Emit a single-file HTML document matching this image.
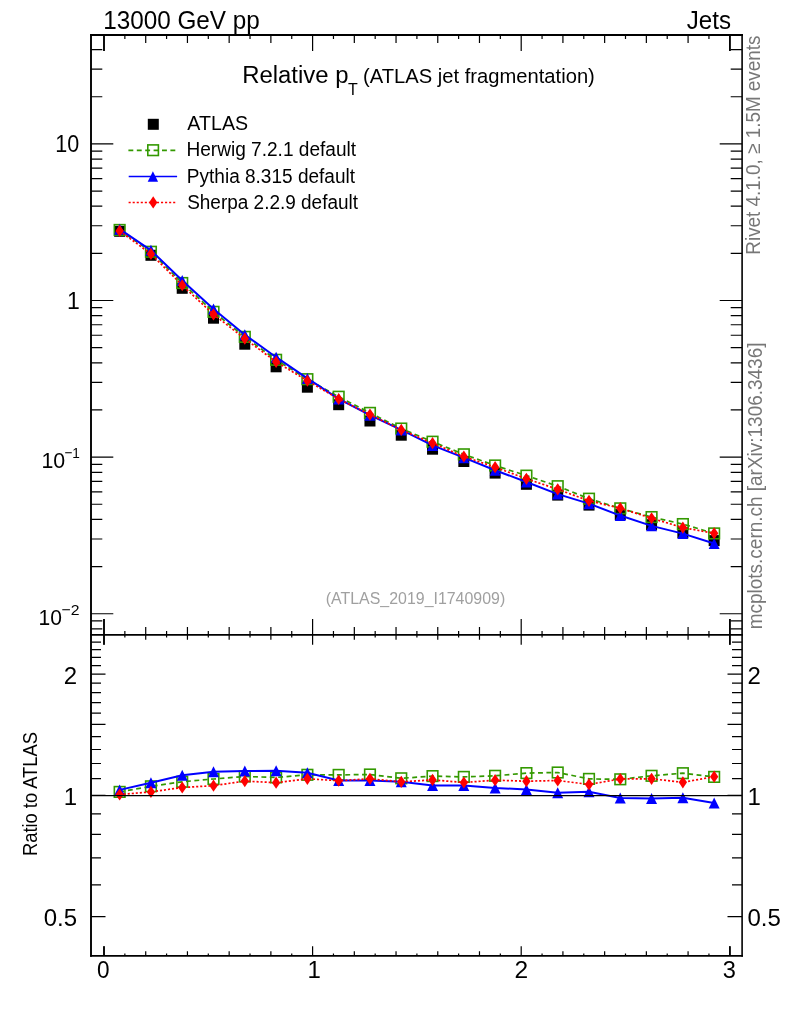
<!DOCTYPE html>
<html><head><meta charset="utf-8"><title>Relative pT (ATLAS jet fragmentation)</title>
<style>html,body{margin:0;padding:0;background:#fff;overflow:hidden;}svg{display:block;will-change:transform;}</style>
</head><body>
<svg width="786" height="1024" viewBox="0 0 786 1024">
<rect width="786" height="1024" fill="#fff"/>
<defs><clipPath id="cu"><rect x="91" y="35" width="651" height="600"/></clipPath>
<clipPath id="cr"><rect x="91" y="635" width="651" height="321"/></clipPath></defs>
<g clip-path="url(#cu)">
<rect x="114.14" y="225.8" width="11" height="11" fill="#000"/>
<rect x="145.44" y="249.8" width="11" height="11" fill="#000"/>
<rect x="176.72" y="282.8" width="11" height="11" fill="#000"/>
<rect x="208.01" y="312.7" width="11" height="11" fill="#000"/>
<rect x="239.3" y="338.7" width="11" height="11" fill="#000"/>
<rect x="270.6" y="361.3" width="11" height="11" fill="#000"/>
<rect x="301.88" y="381.7" width="11" height="11" fill="#000"/>
<rect x="333.17" y="399.2" width="11" height="11" fill="#000"/>
<rect x="364.46" y="415.5" width="11" height="11" fill="#000"/>
<rect x="395.75" y="429.7" width="11" height="11" fill="#000"/>
<rect x="427.04" y="443.7" width="11" height="11" fill="#000"/>
<rect x="458.33" y="456" width="11" height="11" fill="#000"/>
<rect x="489.62" y="467.6" width="11" height="11" fill="#000"/>
<rect x="520.91" y="478.8" width="11" height="11" fill="#000"/>
<rect x="552.21" y="489.6" width="11" height="11" fill="#000"/>
<rect x="583.5" y="499.6" width="11" height="11" fill="#000"/>
<rect x="614.78" y="509.1" width="11" height="11" fill="#000"/>
<rect x="646.07" y="519.2" width="11" height="11" fill="#000"/>
<rect x="677.37" y="527.2" width="11" height="11" fill="#000"/>
<rect x="708.66" y="535.1" width="11" height="11" fill="#000"/>
<polyline points="119.64,229.94 150.94,251.76 182.22,283.01 213.51,311.82 244.8,336.85 276.1,359.8 307.38,379.19 338.67,396.73 369.96,412.88 401.25,428.55 432.54,441.7 463.83,454.31 495.12,465.48 526.41,475.63 557.71,486.2 589,498.69 620.28,508.34 651.57,517.08 682.87,524.07 714.16,533.41" fill="none" stroke="#339900" stroke-width="1.7" stroke-dasharray="4.9 3.5"/>
<rect x="114.34" y="224.64" width="10.6" height="10.6" fill="none" stroke="#339900" stroke-width="1.6"/>
<rect x="145.63" y="246.46" width="10.6" height="10.6" fill="none" stroke="#339900" stroke-width="1.6"/>
<rect x="176.92" y="277.71" width="10.6" height="10.6" fill="none" stroke="#339900" stroke-width="1.6"/>
<rect x="208.21" y="306.52" width="10.6" height="10.6" fill="none" stroke="#339900" stroke-width="1.6"/>
<rect x="239.5" y="331.55" width="10.6" height="10.6" fill="none" stroke="#339900" stroke-width="1.6"/>
<rect x="270.8" y="354.5" width="10.6" height="10.6" fill="none" stroke="#339900" stroke-width="1.6"/>
<rect x="302.08" y="373.89" width="10.6" height="10.6" fill="none" stroke="#339900" stroke-width="1.6"/>
<rect x="333.37" y="391.43" width="10.6" height="10.6" fill="none" stroke="#339900" stroke-width="1.6"/>
<rect x="364.66" y="407.58" width="10.6" height="10.6" fill="none" stroke="#339900" stroke-width="1.6"/>
<rect x="395.95" y="423.25" width="10.6" height="10.6" fill="none" stroke="#339900" stroke-width="1.6"/>
<rect x="427.24" y="436.4" width="10.6" height="10.6" fill="none" stroke="#339900" stroke-width="1.6"/>
<rect x="458.53" y="449.01" width="10.6" height="10.6" fill="none" stroke="#339900" stroke-width="1.6"/>
<rect x="489.82" y="460.18" width="10.6" height="10.6" fill="none" stroke="#339900" stroke-width="1.6"/>
<rect x="521.12" y="470.33" width="10.6" height="10.6" fill="none" stroke="#339900" stroke-width="1.6"/>
<rect x="552.41" y="480.9" width="10.6" height="10.6" fill="none" stroke="#339900" stroke-width="1.6"/>
<rect x="583.7" y="493.39" width="10.6" height="10.6" fill="none" stroke="#339900" stroke-width="1.6"/>
<rect x="614.99" y="503.04" width="10.6" height="10.6" fill="none" stroke="#339900" stroke-width="1.6"/>
<rect x="646.27" y="511.78" width="10.6" height="10.6" fill="none" stroke="#339900" stroke-width="1.6"/>
<rect x="677.57" y="518.77" width="10.6" height="10.6" fill="none" stroke="#339900" stroke-width="1.6"/>
<rect x="708.86" y="528.11" width="10.6" height="10.6" fill="none" stroke="#339900" stroke-width="1.6"/>
<polyline points="119.64,229.16 150.94,250.36 182.22,280.45 213.51,309.03 244.8,334.71 276.1,357.2 307.38,378.38 338.67,398.91 369.96,415.21 401.25,429.91 432.54,445.39 463.83,457.69 495.12,470.22 526.41,481.97 557.71,494.09 589,503.66 620.28,515.57 651.57,525.87 682.87,533.59 714.16,543.55" fill="none" stroke="#0000ff" stroke-width="2"/>
<path d="M114.14 234.66L125.14 234.66L119.64 223.66Z" fill="#0000ff"/>
<path d="M145.44 255.86L156.44 255.86L150.94 244.86Z" fill="#0000ff"/>
<path d="M176.72 285.95L187.72 285.95L182.22 274.95Z" fill="#0000ff"/>
<path d="M208.01 314.53L219.01 314.53L213.51 303.53Z" fill="#0000ff"/>
<path d="M239.3 340.21L250.3 340.21L244.8 329.21Z" fill="#0000ff"/>
<path d="M270.6 362.7L281.6 362.7L276.1 351.7Z" fill="#0000ff"/>
<path d="M301.88 383.88L312.88 383.88L307.38 372.88Z" fill="#0000ff"/>
<path d="M333.17 404.41L344.17 404.41L338.67 393.41Z" fill="#0000ff"/>
<path d="M364.46 420.71L375.46 420.71L369.96 409.71Z" fill="#0000ff"/>
<path d="M395.75 435.41L406.75 435.41L401.25 424.41Z" fill="#0000ff"/>
<path d="M427.04 450.89L438.04 450.89L432.54 439.89Z" fill="#0000ff"/>
<path d="M458.33 463.19L469.33 463.19L463.83 452.19Z" fill="#0000ff"/>
<path d="M489.62 475.72L500.62 475.72L495.12 464.72Z" fill="#0000ff"/>
<path d="M520.91 487.47L531.91 487.47L526.41 476.47Z" fill="#0000ff"/>
<path d="M552.21 499.59L563.21 499.59L557.71 488.59Z" fill="#0000ff"/>
<path d="M583.5 509.16L594.5 509.16L589 498.16Z" fill="#0000ff"/>
<path d="M614.78 521.07L625.78 521.07L620.28 510.07Z" fill="#0000ff"/>
<path d="M646.07 531.37L657.07 531.37L651.57 520.37Z" fill="#0000ff"/>
<path d="M677.37 539.09L688.37 539.09L682.87 528.09Z" fill="#0000ff"/>
<path d="M708.66 549.05L719.66 549.05L714.16 538.05Z" fill="#0000ff"/>
<polyline points="119.64,230.95 150.94,253.94 182.22,285.23 213.51,314.43 244.8,338.64 276.1,361.86 307.38,380.75 338.67,398.99 369.96,414.55 401.25,429.91 432.54,443.17 463.83,456.49 495.12,467.19 526.41,478.78 557.71,489.31 589,500.82 620.28,508.22 651.57,518.25 682.87,527.61 714.16,533.33" fill="none" stroke="#ff0000" stroke-width="1.7" stroke-dasharray="2.1 1.95"/>
<path d="M119.64 224.85L123.8 230.95L119.64 237.05L115.49 230.95Z" fill="#ff0000"/>
<path d="M150.94 247.84L155.09 253.94L150.94 260.04L146.78 253.94Z" fill="#ff0000"/>
<path d="M182.22 279.13L186.38 285.23L182.22 291.33L178.07 285.23Z" fill="#ff0000"/>
<path d="M213.51 308.33L217.66 314.43L213.51 320.53L209.36 314.43Z" fill="#ff0000"/>
<path d="M244.8 332.54L248.95 338.64L244.8 344.74L240.65 338.64Z" fill="#ff0000"/>
<path d="M276.1 355.76L280.25 361.86L276.1 367.96L271.95 361.86Z" fill="#ff0000"/>
<path d="M307.38 374.65L311.53 380.75L307.38 386.85L303.24 380.75Z" fill="#ff0000"/>
<path d="M338.67 392.89L342.82 398.99L338.67 405.09L334.52 398.99Z" fill="#ff0000"/>
<path d="M369.96 408.45L374.11 414.55L369.96 420.65L365.81 414.55Z" fill="#ff0000"/>
<path d="M401.25 423.81L405.4 429.91L401.25 436.01L397.1 429.91Z" fill="#ff0000"/>
<path d="M432.54 437.07L436.69 443.17L432.54 449.27L428.39 443.17Z" fill="#ff0000"/>
<path d="M463.83 450.39L467.98 456.49L463.83 462.59L459.69 456.49Z" fill="#ff0000"/>
<path d="M495.12 461.09L499.27 467.19L495.12 473.29L490.97 467.19Z" fill="#ff0000"/>
<path d="M526.41 472.68L530.56 478.78L526.41 484.88L522.26 478.78Z" fill="#ff0000"/>
<path d="M557.71 483.21L561.86 489.31L557.71 495.41L553.56 489.31Z" fill="#ff0000"/>
<path d="M589 494.72L593.14 500.82L589 506.92L584.85 500.82Z" fill="#ff0000"/>
<path d="M620.28 502.12L624.43 508.22L620.28 514.32L616.13 508.22Z" fill="#ff0000"/>
<path d="M651.57 512.15L655.72 518.25L651.57 524.35L647.42 518.25Z" fill="#ff0000"/>
<path d="M682.87 521.51L687.01 527.61L682.87 533.71L678.72 527.61Z" fill="#ff0000"/>
<path d="M714.16 527.23L718.31 533.33L714.16 539.43L710.01 533.33Z" fill="#ff0000"/>
</g>
<g clip-path="url(#cr)">
<polyline points="119.64,791.9 150.94,786.3 182.22,781.8 213.51,779 244.8,776.5 276.1,777.4 307.38,774.8 338.67,774.9 369.96,774.5 401.25,778.3 432.54,776.1 463.83,776.9 495.12,775.8 526.41,773.1 557.71,772.5 589,778.9 620.28,779.3 651.57,775.8 682.87,773.2 714.16,776.9" fill="none" stroke="#339900" stroke-width="1.7" stroke-dasharray="4.9 3.5"/>
<rect x="114.34" y="786.6" width="10.6" height="10.6" fill="none" stroke="#339900" stroke-width="1.6"/>
<rect x="145.63" y="781" width="10.6" height="10.6" fill="none" stroke="#339900" stroke-width="1.6"/>
<rect x="176.92" y="776.5" width="10.6" height="10.6" fill="none" stroke="#339900" stroke-width="1.6"/>
<rect x="208.21" y="773.7" width="10.6" height="10.6" fill="none" stroke="#339900" stroke-width="1.6"/>
<rect x="239.5" y="771.2" width="10.6" height="10.6" fill="none" stroke="#339900" stroke-width="1.6"/>
<rect x="270.8" y="772.1" width="10.6" height="10.6" fill="none" stroke="#339900" stroke-width="1.6"/>
<rect x="302.08" y="769.5" width="10.6" height="10.6" fill="none" stroke="#339900" stroke-width="1.6"/>
<rect x="333.37" y="769.6" width="10.6" height="10.6" fill="none" stroke="#339900" stroke-width="1.6"/>
<rect x="364.66" y="769.2" width="10.6" height="10.6" fill="none" stroke="#339900" stroke-width="1.6"/>
<rect x="395.95" y="773" width="10.6" height="10.6" fill="none" stroke="#339900" stroke-width="1.6"/>
<rect x="427.24" y="770.8" width="10.6" height="10.6" fill="none" stroke="#339900" stroke-width="1.6"/>
<rect x="458.53" y="771.6" width="10.6" height="10.6" fill="none" stroke="#339900" stroke-width="1.6"/>
<rect x="489.82" y="770.5" width="10.6" height="10.6" fill="none" stroke="#339900" stroke-width="1.6"/>
<rect x="521.12" y="767.8" width="10.6" height="10.6" fill="none" stroke="#339900" stroke-width="1.6"/>
<rect x="552.41" y="767.2" width="10.6" height="10.6" fill="none" stroke="#339900" stroke-width="1.6"/>
<rect x="583.7" y="773.6" width="10.6" height="10.6" fill="none" stroke="#339900" stroke-width="1.6"/>
<rect x="614.99" y="774" width="10.6" height="10.6" fill="none" stroke="#339900" stroke-width="1.6"/>
<rect x="646.27" y="770.5" width="10.6" height="10.6" fill="none" stroke="#339900" stroke-width="1.6"/>
<rect x="677.57" y="767.9" width="10.6" height="10.6" fill="none" stroke="#339900" stroke-width="1.6"/>
<rect x="708.86" y="771.6" width="10.6" height="10.6" fill="none" stroke="#339900" stroke-width="1.6"/>
<polyline points="119.64,789.9 150.94,782.7 182.22,775.2 213.51,771.8 244.8,771 276.1,770.7 307.38,772.7 338.67,780.5 369.96,780.5 401.25,781.8 432.54,785.6 463.83,785.6 495.12,788 526.41,789.4 557.71,792.8 589,791.7 620.28,797.9 651.57,798.4 682.87,797.7 714.16,803" fill="none" stroke="#0000ff" stroke-width="2"/>
<path d="M114.14 795.4L125.14 795.4L119.64 784.4Z" fill="#0000ff"/>
<path d="M145.44 788.2L156.44 788.2L150.94 777.2Z" fill="#0000ff"/>
<path d="M176.72 780.7L187.72 780.7L182.22 769.7Z" fill="#0000ff"/>
<path d="M208.01 777.3L219.01 777.3L213.51 766.3Z" fill="#0000ff"/>
<path d="M239.3 776.5L250.3 776.5L244.8 765.5Z" fill="#0000ff"/>
<path d="M270.6 776.2L281.6 776.2L276.1 765.2Z" fill="#0000ff"/>
<path d="M301.88 778.2L312.88 778.2L307.38 767.2Z" fill="#0000ff"/>
<path d="M333.17 786L344.17 786L338.67 775Z" fill="#0000ff"/>
<path d="M364.46 786L375.46 786L369.96 775Z" fill="#0000ff"/>
<path d="M395.75 787.3L406.75 787.3L401.25 776.3Z" fill="#0000ff"/>
<path d="M427.04 791.1L438.04 791.1L432.54 780.1Z" fill="#0000ff"/>
<path d="M458.33 791.1L469.33 791.1L463.83 780.1Z" fill="#0000ff"/>
<path d="M489.62 793.5L500.62 793.5L495.12 782.5Z" fill="#0000ff"/>
<path d="M520.91 794.9L531.91 794.9L526.41 783.9Z" fill="#0000ff"/>
<path d="M552.21 798.3L563.21 798.3L557.71 787.3Z" fill="#0000ff"/>
<path d="M583.5 797.2L594.5 797.2L589 786.2Z" fill="#0000ff"/>
<path d="M614.78 803.4L625.78 803.4L620.28 792.4Z" fill="#0000ff"/>
<path d="M646.07 803.9L657.07 803.9L651.57 792.9Z" fill="#0000ff"/>
<path d="M677.37 803.2L688.37 803.2L682.87 792.2Z" fill="#0000ff"/>
<path d="M708.66 808.5L719.66 808.5L714.16 797.5Z" fill="#0000ff"/>
<polyline points="119.64,794.5 150.94,791.9 182.22,787.5 213.51,785.7 244.8,781.1 276.1,782.7 307.38,778.8 338.67,780.7 369.96,778.8 401.25,781.8 432.54,779.9 463.83,782.5 495.12,780.2 526.41,781.2 557.71,780.5 589,784.4 620.28,779 651.57,778.8 682.87,782.3 714.16,776.7" fill="none" stroke="#ff0000" stroke-width="1.7" stroke-dasharray="2.1 1.95"/>
<path d="M119.64 788.4L123.8 794.5L119.64 800.6L115.49 794.5Z" fill="#ff0000"/>
<path d="M150.94 785.8L155.09 791.9L150.94 798L146.78 791.9Z" fill="#ff0000"/>
<path d="M182.22 781.4L186.38 787.5L182.22 793.6L178.07 787.5Z" fill="#ff0000"/>
<path d="M213.51 779.6L217.66 785.7L213.51 791.8L209.36 785.7Z" fill="#ff0000"/>
<path d="M244.8 775L248.95 781.1L244.8 787.2L240.65 781.1Z" fill="#ff0000"/>
<path d="M276.1 776.6L280.25 782.7L276.1 788.8L271.95 782.7Z" fill="#ff0000"/>
<path d="M307.38 772.7L311.53 778.8L307.38 784.9L303.24 778.8Z" fill="#ff0000"/>
<path d="M338.67 774.6L342.82 780.7L338.67 786.8L334.52 780.7Z" fill="#ff0000"/>
<path d="M369.96 772.7L374.11 778.8L369.96 784.9L365.81 778.8Z" fill="#ff0000"/>
<path d="M401.25 775.7L405.4 781.8L401.25 787.9L397.1 781.8Z" fill="#ff0000"/>
<path d="M432.54 773.8L436.69 779.9L432.54 786L428.39 779.9Z" fill="#ff0000"/>
<path d="M463.83 776.4L467.98 782.5L463.83 788.6L459.69 782.5Z" fill="#ff0000"/>
<path d="M495.12 774.1L499.27 780.2L495.12 786.3L490.97 780.2Z" fill="#ff0000"/>
<path d="M526.41 775.1L530.56 781.2L526.41 787.3L522.26 781.2Z" fill="#ff0000"/>
<path d="M557.71 774.4L561.86 780.5L557.71 786.6L553.56 780.5Z" fill="#ff0000"/>
<path d="M589 778.3L593.14 784.4L589 790.5L584.85 784.4Z" fill="#ff0000"/>
<path d="M620.28 772.9L624.43 779L620.28 785.1L616.13 779Z" fill="#ff0000"/>
<path d="M651.57 772.7L655.72 778.8L651.57 784.9L647.42 778.8Z" fill="#ff0000"/>
<path d="M682.87 776.2L687.01 782.3L682.87 788.4L678.72 782.3Z" fill="#ff0000"/>
<path d="M714.16 770.6L718.31 776.7L714.16 782.8L710.01 776.7Z" fill="#ff0000"/>
<line x1="91" y1="795.6" x2="742" y2="795.6" stroke="#000" stroke-width="1.2"/>
</g>
<path d="M104 35V51M104 635V619M104 635V644.7M104 956V946.3M124.86 35V39M124.86 635V631M124.86 635V637.4M124.86 956V953.6M145.72 35V43M145.72 635V627M145.72 635V639.8M145.72 956V951.2M166.58 35V39M166.58 635V631M166.58 635V637.4M166.58 956V953.6M187.44 35V43M187.44 635V627M187.44 635V639.8M187.44 956V951.2M208.3 35V39M208.3 635V631M208.3 635V637.4M208.3 956V953.6M229.16 35V43M229.16 635V627M229.16 635V639.8M229.16 956V951.2M250.02 35V39M250.02 635V631M250.02 635V637.4M250.02 956V953.6M270.88 35V43M270.88 635V627M270.88 635V639.8M270.88 956V951.2M291.74 35V39M291.74 635V631M291.74 635V637.4M291.74 956V953.6M312.6 35V51M312.6 635V619M312.6 635V644.7M312.6 956V946.3M333.46 35V39M333.46 635V631M333.46 635V637.4M333.46 956V953.6M354.32 35V43M354.32 635V627M354.32 635V639.8M354.32 956V951.2M375.18 35V39M375.18 635V631M375.18 635V637.4M375.18 956V953.6M396.04 35V43M396.04 635V627M396.04 635V639.8M396.04 956V951.2M416.9 35V39M416.9 635V631M416.9 635V637.4M416.9 956V953.6M437.76 35V43M437.76 635V627M437.76 635V639.8M437.76 956V951.2M458.62 35V39M458.62 635V631M458.62 635V637.4M458.62 956V953.6M479.48 35V43M479.48 635V627M479.48 635V639.8M479.48 956V951.2M500.34 35V39M500.34 635V631M500.34 635V637.4M500.34 956V953.6M521.2 35V51M521.2 635V619M521.2 635V644.7M521.2 956V946.3M542.06 35V39M542.06 635V631M542.06 635V637.4M542.06 956V953.6M562.92 35V43M562.92 635V627M562.92 635V639.8M562.92 956V951.2M583.78 35V39M583.78 635V631M583.78 635V637.4M583.78 956V953.6M604.64 35V43M604.64 635V627M604.64 635V639.8M604.64 956V951.2M625.5 35V39M625.5 635V631M625.5 635V637.4M625.5 956V953.6M646.36 35V43M646.36 635V627M646.36 635V639.8M646.36 956V951.2M667.22 35V39M667.22 635V631M667.22 635V637.4M667.22 956V953.6M688.08 35V43M688.08 635V627M688.08 635V639.8M688.08 956V951.2M708.94 35V39M708.94 635V631M708.94 635V637.4M708.94 956V953.6M729.8 35V51M729.8 635V619M729.8 635V644.7M729.8 956V946.3M91 628.92H102.3M742 628.92H730.7M91 620.91H102.3M742 620.91H730.7M91 613.74H113.3M742 613.74H719.7M91 566.59H102.3M742 566.59H730.7M91 539.01H102.3M742 539.01H730.7M91 519.45H102.3M742 519.45H730.7M91 504.27H102.3M742 504.27H730.7M91 491.87H102.3M742 491.87H730.7M91 481.38H102.3M742 481.38H730.7M91 472.3H102.3M742 472.3H730.7M91 464.29H102.3M742 464.29H730.7M91 457.12H113.3M742 457.12H719.7M91 409.97H102.3M742 409.97H730.7M91 382.39H102.3M742 382.39H730.7M91 362.83H102.3M742 362.83H730.7M91 347.65H102.3M742 347.65H730.7M91 335.25H102.3M742 335.25H730.7M91 324.76H102.3M742 324.76H730.7M91 315.68H102.3M742 315.68H730.7M91 307.67H102.3M742 307.67H730.7M91 300.5H113.3M742 300.5H719.7M91 253.35H102.3M742 253.35H730.7M91 225.77H102.3M742 225.77H730.7M91 206.21H102.3M742 206.21H730.7M91 191.03H102.3M742 191.03H730.7M91 178.63H102.3M742 178.63H730.7M91 168.14H102.3M742 168.14H730.7M91 159.06H102.3M742 159.06H730.7M91 151.05H102.3M742 151.05H730.7M91 143.88H113.3M742 143.88H719.7M91 96.73H102.3M742 96.73H730.7M91 69.15H102.3M742 69.15H730.7M91 49.59H102.3M742 49.59H730.7M91 916.68H105.5M742 916.68H727.5M91 884.78H101M742 884.78H732M91 857.81H101M742 857.81H732M91 834.45H101M742 834.45H732M91 813.84H101M742 813.84H732M91 795.4H105.5M742 795.4H727.5M91 778.72H101M742 778.72H732M91 763.5H101M742 763.5H732M91 749.49H101M742 749.49H732M91 736.53H101M742 736.53H732M91 724.45H105.5M742 724.45H727.5M91 713.16H101M742 713.16H732M91 702.55H101M742 702.55H732M91 692.55H101M742 692.55H732M91 683.09H101M742 683.09H732M91 674.12H105.5M742 674.12H727.5M91 665.58H101M742 665.58H732M91 657.44H101M742 657.44H732M91 649.66H101M742 649.66H732M91 642.21H101M742 642.21H732" stroke="#000" stroke-width="1.2" fill="none"/>
<path d="M104 35V51 M104 619V644.7 M104 946.3V956 M729.9 35V51 M729.9 619V644.7 M729.9 946.3V956" stroke="#000" stroke-width="1.7" fill="none"/>
<g stroke="#000" fill="none" stroke-linecap="square">
<path d="M91 35V955.9" stroke-width="1.9"/>
<path d="M742.1 35V955.9" stroke-width="1.6"/>
<path d="M91 35H742.1" stroke-width="1.8"/>
<path d="M91 634.9H742.1" stroke-width="1.6"/>
<path d="M91 955.9H742.1" stroke-width="1.7"/>
</g>
<g font-family="Liberation Sans, Arial, Helvetica, sans-serif" fill="#000">
<text x="103.26" y="29" font-size="25.3" textLength="156.56" lengthAdjust="spacingAndGlyphs">13000 GeV pp</text>
<text x="686.71" y="29" font-size="25.3" textLength="44.25" lengthAdjust="spacingAndGlyphs">Jets</text>
<text x="242.14" y="82.7" font-size="24.7" textLength="106.39" lengthAdjust="spacingAndGlyphs">Relative p</text>
<text x="347.9" y="95.2" font-size="16">T</text>
<text x="362.95" y="82.5" font-size="20.5" textLength="231.91" lengthAdjust="spacingAndGlyphs">(ATLAS jet fragmentation)</text>
<text x="187.36" y="130" font-size="20" textLength="60.74" lengthAdjust="spacingAndGlyphs">ATLAS</text>
<text x="186.44" y="156.2" font-size="20" textLength="169.62" lengthAdjust="spacingAndGlyphs">Herwig 7.2.1 default</text>
<text x="186.84" y="183" font-size="20" textLength="168.21" lengthAdjust="spacingAndGlyphs">Pythia 8.315 default</text>
<text x="187.13" y="209.3" font-size="20" textLength="170.9" lengthAdjust="spacingAndGlyphs">Sherpa 2.2.9 default</text>
<text x="55.36" y="152.2" font-size="23" textLength="23.96" lengthAdjust="spacingAndGlyphs">10</text>
<text x="79.7" y="308.6" font-size="23" text-anchor="end">1</text>
<text x="41.38" y="467.7" font-size="22.5" textLength="23.74" lengthAdjust="spacingAndGlyphs">10</text>
<text x="64.42" y="457.6" font-size="15.2" textLength="15.54" lengthAdjust="spacingAndGlyphs">−1</text>
<text x="38.6" y="625" font-size="22.5" textLength="23.41" lengthAdjust="spacingAndGlyphs">10</text>
<text x="61.51" y="614.6" font-size="15.2" textLength="17.98" lengthAdjust="spacingAndGlyphs">−2</text>
<text x="77" y="683.52" font-size="24" text-anchor="end">2</text>
<text x="747.5" y="683.52" font-size="24">2</text>
<text x="77" y="804.8" font-size="24" text-anchor="end">1</text>
<text x="747.5" y="804.8" font-size="24">1</text>
<text x="77" y="926.08" font-size="24" text-anchor="end">0.5</text>
<text x="747.5" y="926.08" font-size="24">0.5</text>
<text x="97.1" y="978" font-size="24" textLength="12.57" lengthAdjust="spacingAndGlyphs">0</text>
<text x="514.47" y="978" font-size="24" textLength="13.66" lengthAdjust="spacingAndGlyphs">2</text>
<text x="722.7" y="978" font-size="24" textLength="13.14" lengthAdjust="spacingAndGlyphs">3</text>
<text x="314.3" y="978" font-size="24" text-anchor="middle">1</text>
<text transform="translate(36.6 854.5) rotate(-90)" x="-1.5" font-size="19.5" textLength="123.92" lengthAdjust="spacingAndGlyphs">Ratio to ATLAS</text>
</g>
<g font-family="Liberation Sans, Arial, Helvetica, sans-serif" fill="#777">
<text transform="translate(760 253.1) rotate(-90)" x="-1.55" font-size="20" textLength="219.13" lengthAdjust="spacingAndGlyphs">Rivet 4.1.0, ≥ 1.5M events</text>
<text transform="translate(762.3 628) rotate(-90)" x="-1.25" font-size="19.6" textLength="286.7" lengthAdjust="spacingAndGlyphs">mcplots.cern.ch [arXiv:1306.3436]</text>
</g>
<text x="325.81" y="603.9" font-size="16.3" textLength="179.4" lengthAdjust="spacingAndGlyphs" fill="#a0a0a0" font-family="Liberation Sans, Arial, Helvetica, sans-serif">(ATLAS_2019_I1740909)</text>
<rect x="147.8" y="118.8" width="11" height="11" fill="#000"/>
<polyline points="128.4,150.4 177,150.4" fill="none" stroke="#339900" stroke-width="1.7" stroke-dasharray="4.9 3.5"/>
<rect x="147.8" y="144.9" width="10.6" height="10.6" fill="none" stroke="#339900" stroke-width="1.6"/>
<polyline points="128.7,176.4 177.1,176.4" fill="none" stroke="#0000ff" stroke-width="1.5"/>
<path d="M147.7 181.7L158.1 181.7L152.9 171.3Z" fill="#0000ff"/>
<polyline points="128.6,202.4 177,202.4" fill="none" stroke="#ff0000" stroke-width="1.5" stroke-dasharray="2.1 1.95"/>
<path d="M153.2 196.3L157.35 202.4L153.2 208.5L149.05 202.4Z" fill="#ff0000"/>
</svg>
</body></html>
